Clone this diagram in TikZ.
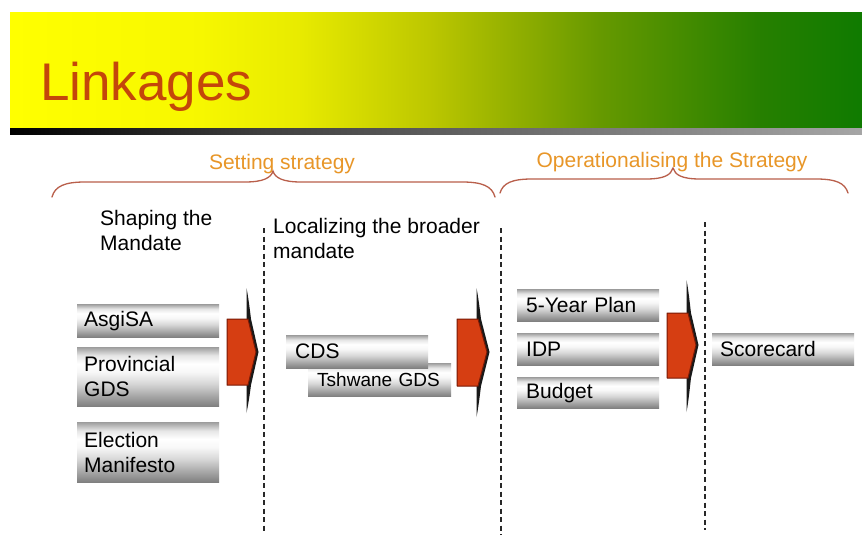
\documentclass[tikz,border=0pt]{standalone}
\usepackage{fontspec}
\setmainfont{Liberation Sans}
\definecolor{titlered}{RGB}{196,70,10}
\definecolor{laborange}{RGB}{232,150,40}
\definecolor{bracecol}{RGB}{185,95,75}
\definecolor{arrowred}{RGB}{214,62,18}
\definecolor{arrowedge}{RGB}{120,25,5}
\definecolor{sepgray}{RGB}{40,40,40}
\pgfdeclarehorizontalshading{hdr}{100bp}{rgb(0bp)=(1,1,0); rgb(25bp)=(1,1,0); rgb(36bp)=(0.97,0.97,0); rgb(42bp)=(0.91,0.92,0); rgb(49.6bp)=(0.74,0.78,0); rgb(55bp)=(0.56,0.68,0); rgb(59.6bp)=(0.4,0.6,0); rgb(69bp)=(0.15,0.5,0); rgb(75bp)=(0.06,0.48,0); rgb(100bp)=(0.06,0.48,0)}
\pgfdeclarehorizontalshading{shd}{100bp}{rgb(0bp)=(0,0,0); rgb(25bp)=(0,0,0); rgb(40bp)=(0.25,0.25,0.25); rgb(75bp)=(0.65,0.65,0.65); rgb(100bp)=(0.65,0.65,0.65)}
\pgfdeclareverticalshading{bar}{100bp}{rgb(0bp)=(0.5,0.5,0.5); rgb(25bp)=(0.5,0.5,0.5); rgb(33bp)=(0.64,0.64,0.64); rgb(44bp)=(0.84,0.84,0.84); rgb(54bp)=(0.97,0.97,0.97); rgb(61bp)=(1,1,1); rgb(68bp)=(0.9,0.9,0.9); rgb(75bp)=(0.62,0.62,0.62); rgb(100bp)=(0.62,0.62,0.62)}
% #1 body left, #2 spike x, #3 tip x, #4 top, #5 body top, #6 mid, #7 body bottom, #8 bottom
\newcommand\chevarrow[8]{%
  \fill[black!90] (#2-1.5,#4) .. controls (#2+0.5,#4+10) and (#2+2,#5-8) .. (#2+3,#5)
     -- (#3+1.5,#6) -- (#2+3,#7) .. controls (#2+2,#7+8) and (#2+0.5,#8-10) .. (#2-1.5,#8) -- cycle;
  \filldraw[fill=arrowred, draw=arrowedge, line width=1pt, line join=round]
     (#1,#5) -- (#2,#5) -- (#3-1,#6) -- (#2,#7) -- (#1,#7) -- cycle;}
\begin{document}
\begin{tikzpicture}[x=1pt,y=-1pt,
  lab/.style={anchor=base, inner sep=0, text=laborange, font=\fontsize{21}{25}\selectfont},
  headtext/.style={anchor=north west, inner sep=0, align=left, font=\fontsize{21}{25}\selectfont},
  barbox/.style={shade, shading=bar, anchor=north west, inner xsep=7pt, inner ysep=0pt,
     text width=128pt, align=left, font=\fontsize{21}{25}\selectfont},
  bracepath/.style={draw=bracecol, line width=1.3pt, line cap=round},
  sep/.style={draw=sepgray, line width=1.8pt, dash pattern=on 5pt off 3.5pt}]
\useasboundingbox (0,0) rectangle (862,535);
\fill[white] (0,0) rectangle (862,535);
% header band
\path[shade, shading=hdr] (10,13) rectangle (862,128);
\path[shade, shading=shd] (10,128) rectangle (862,134);
\node[anchor=base west, inner sep=0, text=titlered, font=\fontsize{53}{60}\selectfont] (title) at (40,100) {Linkages};
% brace labels
\node[lab] (setting) at (282,169) {Setting strategy};
\node[lab] (operat) at (672,167) {Operationalising the Strategy};
% braces
\draw[bracepath] (52,197) .. controls (55,186) and (65,182) .. (85,182) -- (245,182)
  .. controls (263,182) and (271,178) .. (273,171) .. controls (275,178) and (283,182) .. (301,182)
  -- (462,182) .. controls (482,182) and (492,186) .. (495,197);
\draw[bracepath] (500,193) .. controls (503,183) and (512,179) .. (532,179) -- (646,179)
  .. controls (664,179) and (671,175) .. (673,168) .. controls (675,175) and (682,179) .. (700,179)
  -- (816,179) .. controls (836,179) and (845,183) .. (848,193);
% column headings
\node[headtext] (shaping) at (100,210.5) {Shaping the\\Mandate};
\node[headtext] (localizing) at (273,218.5) {Localizing the broader\\mandate};
% separators
\draw[sep] (264,228) -- (264,532);
\draw[sep] (501,228) -- (501,535);
\draw[sep] (705,222) -- (705,530);
% boxes column 1
\node[barbox, minimum height=33pt] (asgisa) at (77,304) {AsgiSA};
\node[barbox, minimum height=59pt] (provgds) at (77,347) {Provincial\\GDS};
\node[barbox, minimum height=60pt] (election) at (77,422) {Election\\Manifesto};
% boxes column 2
\node[barbox, minimum height=33pt, inner xsep=9pt, text width=125pt, font=\fontsize{19}{23}\selectfont] (tshwane) at (308,363) {Tshwane GDS};
\node[barbox, minimum height=33pt, inner xsep=9pt, text width=124pt] (cds) at (286,335) {CDS};
% boxes column 3
\node[barbox, minimum height=32pt, inner xsep=9pt, text width=124pt] (fiveyear) at (517,289) {5-Year Plan};
\node[barbox, minimum height=32pt, inner xsep=9pt, text width=124pt] (idp) at (517,333) {IDP};
\node[barbox, minimum height=31pt, inner xsep=9pt, text width=124pt] (budget) at (517,377) {Budget};
% box column 4
\node[barbox, minimum height=32pt, inner xsep=8pt, text width=126pt] (scorecard) at (712,333) {Scorecard};
% arrows
\chevarrow{227}{248}{257}{288}{319}{352}{385}{413}
\chevarrow{457}{478}{488}{288}{319}{352}{386}{417}
\chevarrow{667}{688}{697}{280}{313}{345}{378}{412}
\end{tikzpicture}
\end{document}
